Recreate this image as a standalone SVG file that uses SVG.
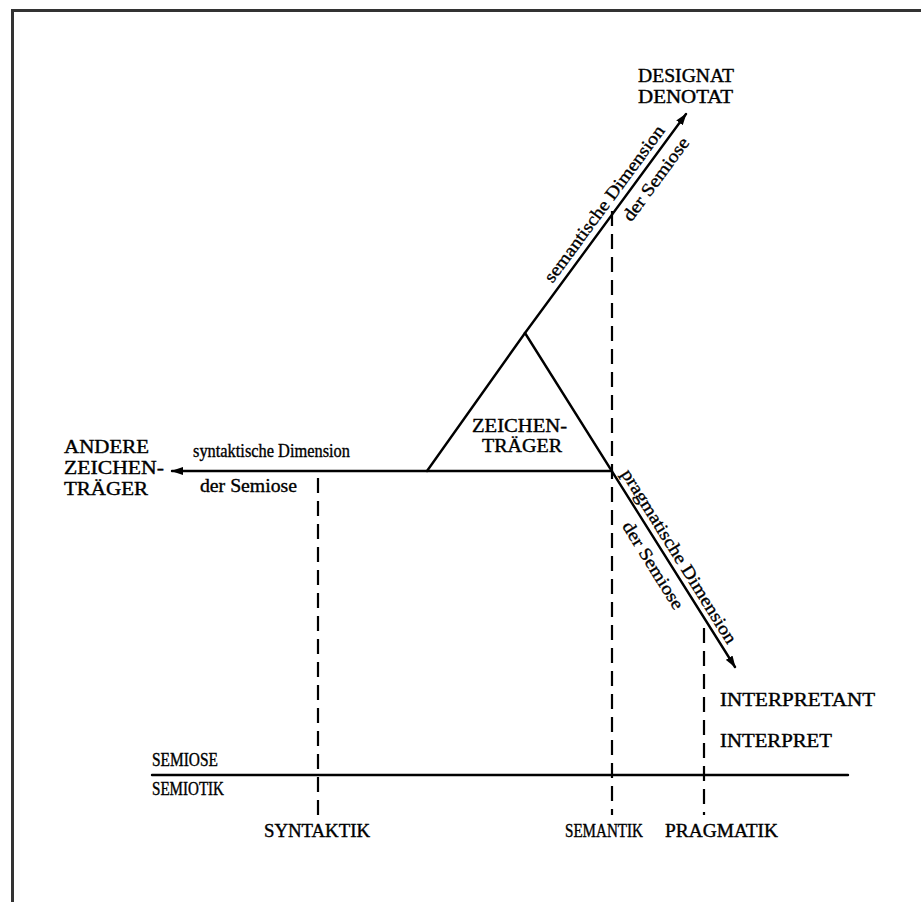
<svg xmlns="http://www.w3.org/2000/svg" width="921" height="902" viewBox="0 0 921 902">
  <style>
    .ln { stroke: #000; stroke-width: 2.4; fill: none; stroke-linecap: round; }
    .dash { stroke: #000; stroke-width: 2.2; fill: none; stroke-dasharray: 15 8; }
    .cap { font-family: "Liberation Serif", "DejaVu Serif", serif; font-size: 19px; fill: #000; stroke: #000; stroke-width: 0.4; }
    .low { font-family: "Liberation Serif", "DejaVu Serif", serif; font-size: 18px; fill: #000; stroke: #000; stroke-width: 0.35; }
  </style>
  <defs>
    <marker id="arrow" viewBox="0 0 12 8" refX="11" refY="4" markerWidth="12" markerHeight="8" markerUnits="userSpaceOnUse" orient="auto">
      <path d="M0,0 L12,4 L0,8 z" fill="#000"/>
    </marker>
  </defs>

  <!-- page frame -->
  <rect x="0" y="0" width="921" height="902" fill="#fff"/>
  <path d="M12.5,902 V10.5 H921" stroke="#333" stroke-width="3" fill="none"/>

  <!-- connectors -->
  <g id="connectors">
    <!-- syntactic dimension -->
    <line class="ln" x1="612" y1="471" x2="172" y2="471" marker-end="url(#arrow)"/>
    <!-- semantic dimension (left side of triangle continues upward) -->
    <line class="ln" x1="427" y1="471" x2="525" y2="333"/>
    <line class="ln" x1="525" y1="333" x2="686" y2="114" marker-end="url(#arrow)"/>
    <!-- pragmatic dimension (right side of triangle continues downward) -->
    <line class="ln" x1="525" y1="333" x2="735" y2="667" marker-end="url(#arrow)"/>
    <!-- semiose / semiotik divider -->
    <line class="ln" x1="152" y1="775" x2="848" y2="775"/>
    <!-- projections -->
    <line class="dash" x1="318" y1="478" x2="318" y2="815"/>
    <line class="dash" x1="612" y1="211" x2="612" y2="815"/>
    <line class="dash" x1="704" y1="628" x2="704" y2="815"/>
  </g>

  <!-- dimension labels -->
  <g id="label-syntaktisch">
    <text class="low" x="193" y="457" textLength="157" lengthAdjust="spacingAndGlyphs">syntaktische Dimension</text>
    <text class="low" x="200" y="492" textLength="97" lengthAdjust="spacingAndGlyphs">der Semiose</text>
  </g>
  <g id="label-semantisch" transform="translate(525,333) rotate(-53.6)">
    <text class="low" x="56" y="-7" textLength="190" lengthAdjust="spacingAndGlyphs">semantische Dimension</text>
    <text class="low" x="152" y="20" textLength="99" lengthAdjust="spacingAndGlyphs">der Semiose</text>
  </g>
  <g id="label-pragmatisch" transform="translate(525,333) rotate(58.1)">
    <text class="low" x="170" y="-7" textLength="202" lengthAdjust="spacingAndGlyphs">pragmatische Dimension</text>
    <text class="low" x="215" y="20" textLength="100" lengthAdjust="spacingAndGlyphs">der Semiose</text>
  </g>

  <!-- nodes -->
  <g id="zeichentraeger">
    <text class="cap" x="472" y="432" font-size="18" textLength="95" lengthAdjust="spacingAndGlyphs">ZEICHEN-</text>
    <text class="cap" x="482" y="452" font-size="18" textLength="80" lengthAdjust="spacingAndGlyphs">TRÄGER</text>
  </g>
  <g id="designat">
    <text class="cap" x="638" y="82" textLength="96" lengthAdjust="spacingAndGlyphs">DESIGNAT</text>
    <text class="cap" x="638" y="103" textLength="95" lengthAdjust="spacingAndGlyphs">DENOTAT</text>
  </g>
  <g id="andere-zeichentraeger">
    <text class="cap" x="64" y="453" textLength="85" lengthAdjust="spacingAndGlyphs">ANDERE</text>
    <text class="cap" x="64" y="474" textLength="100" lengthAdjust="spacingAndGlyphs">ZEICHEN-</text>
    <text class="cap" x="64" y="495" textLength="84" lengthAdjust="spacingAndGlyphs">TRÄGER</text>
  </g>
  <g id="interpretant">
    <text class="cap" x="720" y="706" textLength="155" lengthAdjust="spacingAndGlyphs">INTERPRETANT</text>
    <text class="cap" x="720" y="747" textLength="112" lengthAdjust="spacingAndGlyphs">INTERPRET</text>
  </g>
  <g id="semiose-semiotik">
    <text class="cap" x="152" y="766" font-size="18" textLength="66" lengthAdjust="spacingAndGlyphs">SEMIOSE</text>
    <text class="cap" x="152" y="795" font-size="18" textLength="72" lengthAdjust="spacingAndGlyphs">SEMIOTIK</text>
  </g>
  <g id="syntaktik">
    <text class="cap" x="264" y="837" font-size="18" textLength="106" lengthAdjust="spacingAndGlyphs">SYNTAKTIK</text>
  </g>
  <g id="semantik">
    <text class="cap" x="565" y="837" font-size="18" textLength="78" lengthAdjust="spacingAndGlyphs">SEMANTIK</text>
  </g>
  <g id="pragmatik">
    <text class="cap" x="665" y="837" font-size="18" textLength="113" lengthAdjust="spacingAndGlyphs">PRAGMATIK</text>
  </g>
</svg>
